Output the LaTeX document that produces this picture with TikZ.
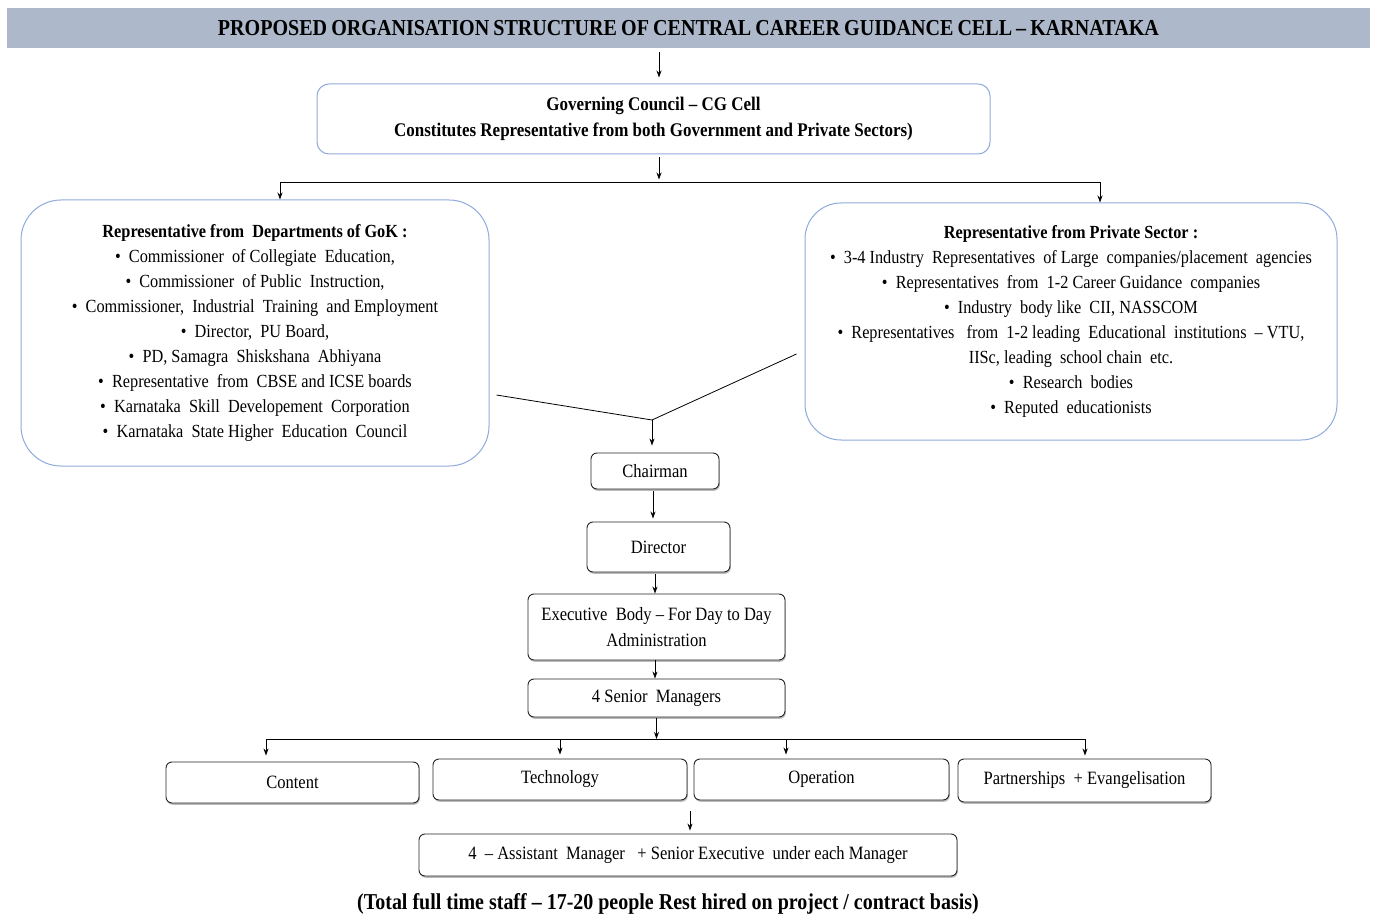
\documentclass[tikz,border=0pt]{standalone}
\usepackage{fontspec}
\setmainfont{Liberation Serif}[FakeStretch=0.88]
\usetikzlibrary{arrows.meta,calc,shadows}
\definecolor{titlebg}{HTML}{ADB9CA}
\definecolor{rblue}{HTML}{8FAADC}
\tikzset{
  arr/.style={-{Stealth[length=7pt,width=5pt]}, line width=0.8pt},
  conn/.style={line width=0.8pt},
  rbox/.style={draw=rblue, line width=1pt, fill=white, align=center, inner sep=0pt},
  kbox/.style={draw=black!85, line width=0.9pt, rounded corners=6pt, fill=white, align=center, inner sep=0pt,
    drop shadow={shadow xshift=0.8pt, shadow yshift=-1.8pt, opacity=0.45, fill=black!60},
    font=\fontsize{18.8}{26}\selectfont},
  body/.style={font=\fontsize{18.5}{25}\selectfont}
}
\begin{document}
\begin{tikzpicture}[x=1pt,y=-1pt]
\useasboundingbox[fill=white] (0,0) rectangle (1374,917);
% title
\node[fill=titlebg, minimum width=1363pt, minimum height=40pt, inner sep=0pt,
      font=\bfseries\fontsize{22.8}{24}\selectfont] (title) at (688.5,28)
  {\spaceskip=0.18em PROPOSED ORGANISATION STRUCTURE OF CENTRAL CAREER GUIDANCE CELL – KARNATAKA};
% governing council
\node[rbox, rounded corners=12pt, minimum width=673pt, minimum height=70pt,
      font=\bfseries\fontsize{19.3}{26}\selectfont] (gov) at (653.5,119)
  {Governing Council – CG Cell\\Constitutes Representative from both Government and Private Sectors)};
% representative boxes
\node[rbox, rounded corners=40pt, minimum width=468pt, minimum height=266pt, body] (left) at (255,333)
  {\textbf{Representative from\ \ Departments of GoK :}\\
   \textbullet\ \ Commissioner\ \ of Collegiate\ \ Education,\\
   \textbullet\ \ Commissioner\ \ of Public\ \ Instruction,\\
   \textbullet\ \ Commissioner,\ \ Industrial\ \ Training\ \ and Employment\\
   \textbullet\ \ Director,\ \ PU Board,\\
   \textbullet\ \ PD, Samagra\ \ Shiskshana\ \ Abhiyana\\
   \textbullet\ \ Representative\ \ from\ \ CBSE and ICSE boards\\
   \textbullet\ \ Karnataka\ \ Skill\ \ Developement\ \ Corporation\\
   \textbullet\ \ Karnataka\ \ State Higher\ \ Education\ \ Council};
\node[rbox, rounded corners=36pt, minimum width=532pt, minimum height=237pt, body] (right) at (1071,321.5)
  {\textbf{Representative from Private Sector :}\\
   \textbullet\ \ 3-4 Industry\ \ Representatives\ \ of Large\ \ companies/placement\ \ agencies\\
   \textbullet\ \ Representatives\ \ from\ \ 1-2 Career Guidance\ \ companies\\
   \textbullet\ \ Industry\ \ body like\ \ CII, NASSCOM\\
   \textbullet\ \ Representatives\ \ \ from\ \ 1-2 leading\ \ Educational\ \ institutions\ \ – VTU,\\
   IISc,\ leading\ \ school chain\ \ etc.\\
   \textbullet\ \ Research\ \ bodies\\
   \textbullet\ \ Reputed\ \ educationists};
% hierarchy
\node[kbox, minimum width=128pt, minimum height=36pt] (chair) at (655,471) {Chairman};
\node[kbox, minimum width=143pt, minimum height=50pt] (dir) at (658.5,547) {Director};
\node[kbox, minimum width=257pt, minimum height=66pt] (exec) at (656.5,627) {Executive\ \ Body – For Day to Day\\Administration};
\node[kbox, minimum width=257pt, minimum height=38pt] (sm) at (656.5,698) {4 Senior\ \ Managers};
\node[kbox, minimum width=253pt, minimum height=41pt] (content) at (292.5,782.5) {Content};
\node[kbox, minimum width=254pt, minimum height=41pt] (tech) at (560,779.5) {Technology};
\node[kbox, minimum width=255pt, minimum height=41pt] (op) at (821.5,779.5) {Operation};
\node[kbox, minimum width=253pt, minimum height=43pt] (part) at (1084.5,780.5) {Partnerships\ \ + Evangelisation};
\node[kbox, minimum width=538pt, minimum height=42pt] (asst) at (688,855) {4\ \ – Assistant\ \ Manager\ \ \ + Senior\ Executive\ \ under each Manager};
\node[font=\bfseries\fontsize{22.7}{24}\selectfont] (foot) at (668,904)
  {(Total full time staff – 17-20 people Rest hired on project / contract basis)};
% connectors
\draw[arr] ($(title.south)+(-29.5,4)$) -- ($(gov.north)+(5.5,-6)$);
\coordinate (busL) at (280,182);
\coordinate (busR) at (1100,182);
\draw[arr] ($(gov.south)+(5.5,3)$) -- ($(gov.south)+(5.5,25)$);
\draw[conn] (busL) -- (busR);
\draw[arr] (busL) -- (busL |- left.north);
\draw[arr] (busR) -- (busR |- right.north);
\coordinate (j) at (652,420);
\draw[conn] ($(left.east)+(7,62)$) -- (j) -- ($(right.west)+(-8,32.5)$);
\draw[arr, shorten >=7pt] (j) -- (j |- chair.north);
\draw[arr, shorten >=3pt, shorten <=2pt] ($(chair.south)+(-2,0)$) -- ($(chair.south |- dir.north)+(-2,0)$);
\draw[arr, shorten <=2pt] ($(dir.south)+(-3.5,0)$) -- ($(dir.south |- exec.north)+(-3.5,0)$);
\draw[arr] ($(exec.south)+(-1.5,0)$) -- ($(exec.south |- sm.north)+(-1.5,0)$);
\coordinate (b1) at (266,739);
\coordinate (b2) at (560,739);
\coordinate (b3) at (786,739);
\coordinate (b4) at (1085,739);
\draw[arr, shorten <=1pt] (sm.south) -- (sm.south |- b1);
\draw[conn] (b1) -- (b4);
\draw[arr, shorten >=6pt] (b1) -- (b1 |- content.north);
\draw[arr, shorten >=4pt] (b2) -- (b2 |- tech.north);
\draw[arr, shorten >=4pt] (b3) -- (b3 |- op.north);
\draw[arr, shorten >=3pt] (b4) -- (b4 |- part.north);
\coordinate (f) at (690,811);
\draw[arr, shorten >=3pt] (f) -- (f |- asst.north);
\end{tikzpicture}
\end{document}
